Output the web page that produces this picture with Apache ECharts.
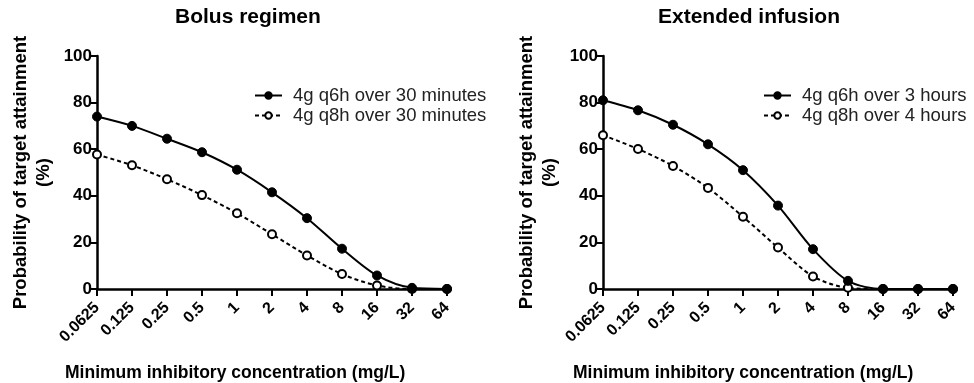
<!DOCTYPE html>
<html>
<head>
<meta charset="utf-8">
<script src="https://cdn.jsdelivr.net/npm/echarts@6/dist/echarts.min.js"></script>
<style>
html,body{margin:0;padding:0;background:#fff;}
#chart{width:974px;height:383px;}
</style>
</head>
<body>
<div id="chart"></div>
<script>
const categories = ['0.0625','0.125','0.25','0.5','1','2','4','8','16','32','64'];
const yTicks = [0, 20, 40, 60, 80, 100];

const bolusQ6h = [74, 70, 64.5, 58.7, 51.2, 41.5, 30.4, 17.3, 5.8, 0.5, 0];
const bolusQ8h = [57.7, 53.1, 47.1, 40.3, 32.5, 23.5, 14.4, 6.4, 1.5, 0, 0];
const extQ6h = [81, 76.7, 70.5, 62.1, 51, 35.8, 17.1, 3.5, 0, 0, 0];
const extQ8h = [66, 60.1, 52.8, 43.4, 31, 17.8, 5.4, 0.5, 0, 0, 0];

const panelTitles = ['Bolus regimen', 'Extended infusion'];
const seriesNames = [
  ['4g q6h over 30 minutes', '4g q8h over 30 minutes'],
  ['4g q6h over 3 hours', '4g q8h over 4 hours']
];
const xName = 'Minimum inhibitory concentration (mg/L)';
const yName = 'Probability of target attainment\n(%)';

const FONT = '"Liberation Sans", Arial, Helvetica, sans-serif';
const chart = echarts.init(document.getElementById('chart'), null, {renderer: 'canvas'});

const grids = [
  {left: 97, right: 527, top: 56, bottom: 94},
  {left: 603, right: 21, top: 56, bottom: 94}
];

function xAxis(i) {
  return {
    type: 'category', gridIndex: i, data: categories, boundaryGap: false,
    axisLine: {lineStyle: {color: '#000', width: 2.5}},
    axisTick: {show: true, alignWithLabel: true, length: 7, lineStyle: {color: '#000', width: 2}},
    axisLabel: {rotate: 45, color: '#000', fontFamily: FONT, fontWeight: 'bold', fontSize: 16, margin: 16, interval: 0},
    splitLine: {show: false}
  };
}
function yAxis(i) {
  return {
    type: 'value', gridIndex: i, min: yTicks[0], max: yTicks[yTicks.length - 1], interval: 20,
    name: yName, nameLocation: 'middle', nameRotate: 90, nameGap: 42,
    nameTextStyle: {color: '#000', fontFamily: FONT, fontWeight: 'bold', fontSize: 18.5, lineHeight: 23},
    axisLine: {show: true, lineStyle: {color: '#000', width: 2.5}},
    axisTick: {show: true, length: 6, lineStyle: {color: '#000', width: 2}},
    axisLabel: {color: '#000', fontFamily: FONT, fontWeight: 'bold', fontSize: 17, margin: 5},
    splitLine: {show: false}
  };
}

function solidSeries(name, data, i) {
  return {
    name: name, type: 'line', xAxisIndex: i, yAxisIndex: i, data: data,
    smooth: 0.3, symbol: 'circle', symbolSize: 9, showSymbol: true,
    lineStyle: {color: '#000', width: 2},
    itemStyle: {color: '#000', borderColor: '#000', borderWidth: 1},
    z: 3
  };
}
function dashedSeries(name, data, i) {
  return {
    name: name, type: 'line', xAxisIndex: i, yAxisIndex: i, data: data,
    smooth: 0.3, symbol: 'circle', symbolSize: 8, showSymbol: true,
    lineStyle: {color: '#000', width: 2, type: [4, 3]},
    itemStyle: {color: '#fff', borderColor: '#000', borderWidth: 2},
    z: 2
  };
}

const titleStyle = {color: '#000', fontFamily: FONT, fontWeight: 'bold', fontSize: 21};
const xNameStyle = {color: '#000', fontFamily: FONT, fontWeight: 'bold', fontSize: 17.5};
const legendText = {color: '#222', fontFamily: FONT, fontSize: 18.5, padding: [0, 0, 0, 6]};

chart.setOption({
  backgroundColor: '#fff',
  animation: false,
  title: [
    {text: panelTitles[0], left: 175, top: 7, padding: 0, textStyle: titleStyle},
    {text: panelTitles[1], left: 658, top: 7, padding: 0, textStyle: titleStyle},
    {text: xName, left: 65, top: 364, padding: 0, textStyle: xNameStyle},
    {text: xName, left: 573, top: 364, padding: 0, textStyle: xNameStyle}
  ],
  legend: [
    {data: seriesNames[0], orient: 'vertical', left: 254, top: 86, itemWidth: 27, itemHeight: 8, itemGap: 1,
     padding: 0, textStyle: legendText, selectedMode: false},
    {data: seriesNames[1], orient: 'vertical', left: 763, top: 86, itemWidth: 27, itemHeight: 8, itemGap: 1,
     padding: 0, textStyle: legendText, selectedMode: false}
  ],
  grid: grids,
  xAxis: [xAxis(0), xAxis(1)],
  yAxis: [yAxis(0), yAxis(1)],
  series: [
    solidSeries(seriesNames[0][0], bolusQ6h, 0),
    dashedSeries(seriesNames[0][1], bolusQ8h, 0),
    solidSeries(seriesNames[1][0], extQ6h, 1),
    dashedSeries(seriesNames[1][1], extQ8h, 1)
  ]
});
</script>
</body>
</html>
